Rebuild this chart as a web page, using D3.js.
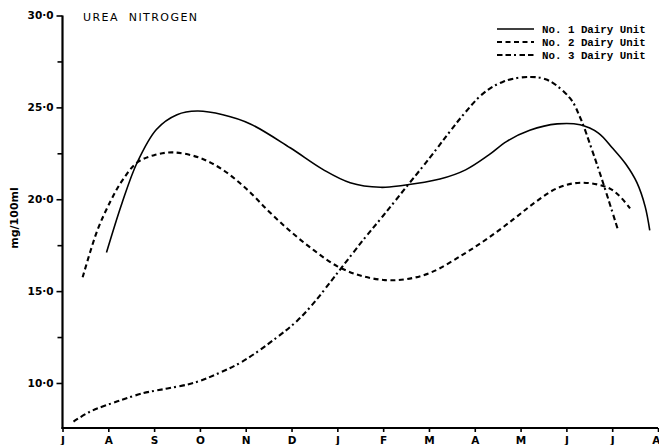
<!DOCTYPE html>
<html>
<head>
<meta charset="utf-8">
<script src="https://cdn.jsdelivr.net/npm/d3@7"></script>
<style>
  html, body { margin: 0; padding: 0; background: #fff; }
  svg { display: block; }
</style>
</head>
<body>
<svg id="chart" width="659" height="445"></svg>
<script>
// Month labels along the x axis (July to the following August)
const monthLabels = ["J", "A", "S", "O", "N", "D", "J", "F", "M", "A", "M", "J", "J", "A"];

// Y axis ticks (mg/100ml)
const majorTicks = [10, 15, 20, 25, 30];
const minorTicks = [12.5, 17.5, 22.5, 27.5];

// Urea nitrogen curves: [month position (0 = July), mg/100ml]
const unit1 = [
  [0.96, 17.1], [1.30, 19.8], [1.63, 22.0], [2.05, 23.8], [2.5, 24.6], [2.94, 24.8],
  [3.5, 24.6], [4.1, 24.1], [4.97, 22.8], [5.7, 21.6], [6.28, 20.9], [6.94, 20.65],
  [7.42, 20.75], [8.24, 21.1], [8.8, 21.6], [9.3, 22.4], [9.7, 23.15], [10.2, 23.75],
  [10.8, 24.1], [11.3, 24.05], [11.7, 23.6], [12.0, 22.8], [12.3, 21.9], [12.54, 20.9],
  [12.72, 19.6], [12.82, 18.3]
];
const unit2 = [
  [0.44, 15.75], [0.76, 18.3], [1.05, 19.9], [1.3, 21.0], [1.63, 22.0], [2.0, 22.4],
  [2.42, 22.55], [3.0, 22.25], [3.5, 21.6], [4.0, 20.6], [4.5, 19.35], [5.0, 18.2],
  [5.5, 17.2], [6.0, 16.35], [6.5, 15.85], [7.04, 15.6], [7.5, 15.65], [8.03, 16.0],
  [8.75, 17.0], [9.3, 17.9], [9.84, 18.9], [10.3, 19.8], [10.8, 20.6], [11.3, 20.9],
  [11.89, 20.65], [12.15, 20.2], [12.39, 19.5]
];
const unit3 = [
  [0.24, 7.9], [0.61, 8.45], [1.2, 9.0], [1.77, 9.45], [2.29, 9.7], [2.86, 10.0],
  [3.38, 10.5], [3.95, 11.2], [4.69, 12.5], [5.13, 13.4], [5.5, 14.4], [5.85, 15.5],
  [6.1, 16.3], [6.57, 17.8], [7.0, 19.1], [7.5, 20.65], [8.0, 22.2], [8.4, 23.5],
  [8.75, 24.6], [9.18, 25.75], [9.62, 26.4], [10.14, 26.65], [10.58, 26.5], [11.08, 25.5],
  [11.3, 24.45], [11.55, 22.75], [11.8, 20.9], [12.13, 18.3]
];

const series = [
  { name: "No. 1 Dairy Unit", data: unit1, dash: null, width: 1.6 },
  { name: "No. 2 Dairy Unit", data: unit2, dash: "5,3.5", width: 2.1 },
  { name: "No. 3 Dairy Unit", data: unit3, dash: "5.5,3,5.5,3,2,3.5", width: 2.1 }
];

const svg = d3.select("#chart");
const ink = "#000";
const labelFont = "'DejaVu Sans', Lato, sans-serif";

const x = d3.scaleLinear().domain([0, 13]).range([62.5, 658]);
const y = d3.scaleLinear().domain([7.55, 30]).range([428, 15.5]);

// Axes
const fmt = d => d.toFixed(1).replace(".", "\u00B7");

const yAxis = svg.append("g")
  .attr("transform", `translate(${x(0)},0)`)
  .call(d3.axisLeft(y).tickValues(majorTicks).tickSize(6).tickPadding(3).tickFormat(fmt));
yAxis.select(".domain").remove();
yAxis.selectAll(".tick line").attr("stroke", ink).attr("stroke-width", 1.6);
yAxis.selectAll(".tick text")
  .attr("fill", ink)
  .style("font-family", labelFont)
  .style("font-weight", "bold")
  .style("font-size", "10.5px");

svg.append("g")
  .attr("transform", `translate(${x(0)},0)`)
  .call(d3.axisLeft(y).tickValues(minorTicks).tickSize(5).tickFormat(""))
  .call(g => g.select(".domain").remove())
  .call(g => g.selectAll(".tick line").attr("stroke", ink).attr("stroke-width", 1.6));

const xAxis = svg.append("g")
  .attr("transform", `translate(0,${y.range()[0]})`)
  .call(d3.axisBottom(x).tickValues(d3.range(monthLabels.length)).tickSize(4).tickPadding(5)
    .tickFormat(i => monthLabels[i]));
xAxis.select(".domain").remove();
xAxis.selectAll(".tick line").attr("stroke", ink).attr("stroke-width", 1.6);
xAxis.selectAll(".tick text")
  .attr("fill", ink)
  .attr("dy", "0.62em")
  .style("font-family", labelFont)
  .style("font-weight", "bold")
  .style("font-size", "10.5px");
// keep the final month label inside the frame
xAxis.selectAll(".tick text")
  .filter(i => i === monthLabels.length - 1)
  .attr("text-anchor", "end")
  .attr("dx", "2px");

// Axis lines
svg.append("line")
  .attr("x1", x(0)).attr("x2", x(0))
  .attr("y1", y(30)).attr("y2", y.range()[0] + 1)
  .attr("stroke", ink).attr("stroke-width", 2.2);
svg.append("line")
  .attr("x1", x(0) - 1).attr("x2", x(13))
  .attr("y1", y.range()[0]).attr("y2", y.range()[0])
  .attr("stroke", ink).attr("stroke-width", 2.2);

// Axis title
svg.append("text")
  .attr("transform", `translate(18,218) rotate(-90)`)
  .attr("text-anchor", "middle")
  .attr("fill", ink)
  .style("font-family", labelFont)
  .style("font-weight", "bold")
  .style("font-size", "11px")
  .text("mg/100ml");

// Chart heading
svg.append("text")
  .attr("x", 83).attr("y", 20.5)
  .attr("fill", ink)
  .attr("textLength", 114)
  .attr("lengthAdjust", "spacing")
  .style("font-family", labelFont)
  .style("font-size", "11px")
  .style("white-space", "pre")
  .text("UREA  NITROGEN");

// Curves
const line = d3.line()
  .x(d => x(d[0]))
  .y(d => y(d[1]))
  .curve(d3.curveCatmullRom.alpha(0.5));

svg.append("g").selectAll("path")
  .data(series)
  .join("path")
  .attr("d", d => line(d.data))
  .attr("fill", "none")
  .attr("stroke", ink)
  .attr("stroke-width", d => d.width)
  .attr("stroke-dasharray", d => d.dash);

// Legend
const legend = svg.append("g");
series.forEach((s, i) => {
  const ly = 29 + i * 13;
  legend.append("line")
    .attr("x1", 497).attr("x2", 534)
    .attr("y1", ly).attr("y2", ly)
    .attr("stroke", ink)
    .attr("stroke-width", s.width)
    .attr("stroke-dasharray", s.dash);
  legend.append("text")
    .attr("x", 542).attr("y", ly + 4)
    .attr("fill", ink)
    .style("font-family", "'Liberation Mono', 'DejaVu Sans Mono', monospace")
    .style("font-weight", "bold")
    .style("font-size", "10.8px")
    .text(s.name);
});
</script>
</body>
</html>
